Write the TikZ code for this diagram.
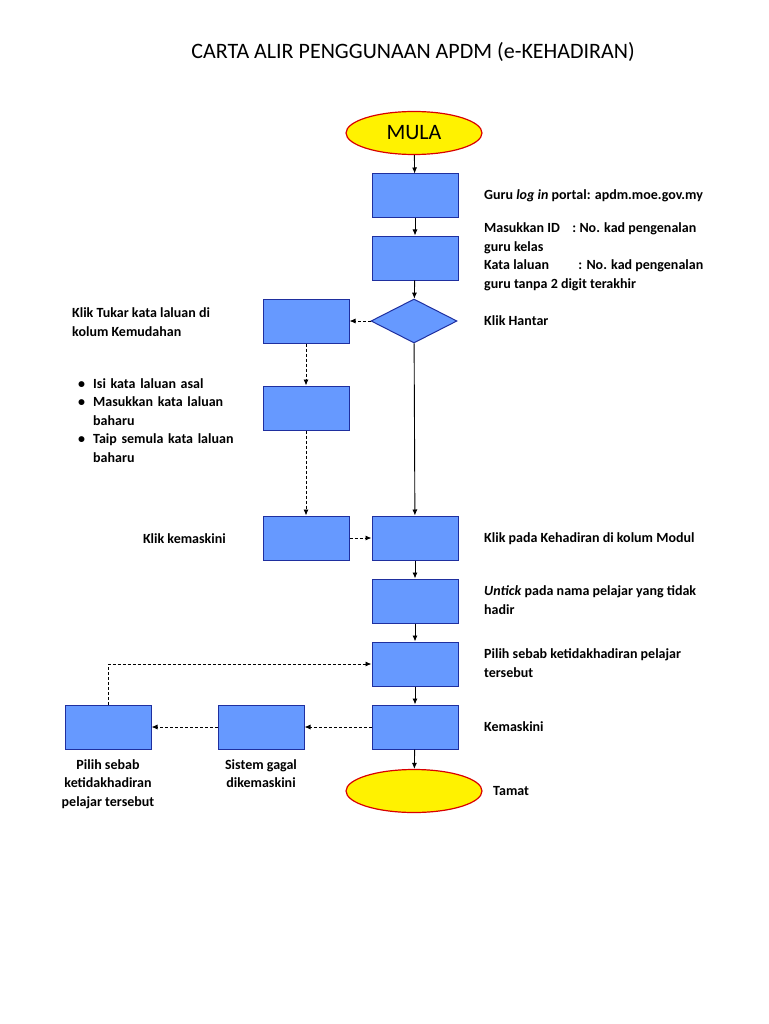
\documentclass[tikz,border=0pt]{standalone}
\usepackage{fontspec}
\setmainfont{Carlito}
\usetikzlibrary{shapes.geometric,arrows.meta}
\definecolor{boxfill}{HTML}{6699FF}
\definecolor{boxline}{HTML}{1F2F9F}
\begin{document}
\begin{tikzpicture}[x=1pt,y=-1pt,
  box/.style={draw=boxline,fill=boxfill,line width=1pt,minimum width=86pt,minimum height=44pt,inner sep=0pt},
  term/.style={ellipse,draw=red!85!black,fill=yellow,line width=1.2pt,minimum width=136pt,minimum height=43pt,inner sep=0pt},
  dia/.style={diamond,draw=boxline,fill=boxfill,line width=1pt,minimum width=86pt,minimum height=44pt,inner sep=0pt,aspect=2},
  arr/.style={-{Latex[length=6pt,width=5pt]},line width=0.9pt},
  darr/.style={arr,dashed,dash pattern=on 3pt off 2pt},
  lbl/.style={anchor=west,align=left,font=\fontsize{14}{18.5}\selectfont\bfseries,inner sep=0pt}]
\useasboundingbox (0,0) rectangle (768,1024);
\node[font=\fontsize{22}{26}\selectfont] (title) at (413,52) {CARTA ALIR PENGGUNAAN APDM (e-KEHADIRAN)};
\node[term,font=\fontsize{22}{26}\selectfont] (mula) at (414,133) {MULA};
\node[box] (b1) at (415,196) {};
\node[box] (b2) at (415,258) {};
\node[dia] (d) at (414,321) {};
\node[box] (l1) at (306,321) {};
\node[box] (l2) at (306,408) {};
\node[box] (l3) at (306,538) {};
\node[box] (b3) at (415,538) {};
\node[box] (b4) at (415,601) {};
\node[box] (b5) at (415,664) {};
\node[box] (b6) at (415,727) {};
\node[box] (f1) at (261,727) {};
\node[box] (f2) at (108,727) {};
\node[term,font=\fontsize{14}{17}\selectfont\bfseries] (tamat) at (414,791) {};
\draw[arr] (mula) -- (b1);
\draw[arr] (b1) -- (b2);
\draw[arr] (b2) -- (d);
\draw[arr] (d) -- (b3);
\draw[arr] (b3) -- (b4);
\draw[arr] (b4) -- (b5);
\draw[arr] (b5) -- (b6);
\draw[arr] (b6) -- (tamat);
\draw[darr] (d) -- (l1);
\draw[darr] (l1) -- (l2);
\draw[darr] (l2) -- (l3);
\draw[darr] (l3) -- (b3);
\draw[darr] (b6) -- (f1);
\draw[darr] (f1) -- (f2);
\draw[darr] (f2.north) |- (b5.west);
\node[lbl] (t1) at (484,196) {Guru \textit{log in} portal: apdm.moe.gov.my};
\node[lbl] (t2) at (484,257) {Masukkan ID\hspace{0.9em}: No. kad pengenalan\\guru kelas\\Kata laluan\hspace{2.1em}: No. kad pengenalan\\guru tanpa 2 digit terakhir};
\node[lbl] (t3) at (484,321) {Klik Hantar};
\node[lbl] (t4) at (72,322) {Klik Tukar kata laluan di\\kolum Kemudahan};
\node[lbl,text width=185pt] (t5) at (72,416) {%
\begin{list}{\textbullet}{\leftmargin=21pt\labelwidth=10pt\labelsep=8pt\itemsep=0pt\parsep=0pt\topsep=0pt}
\item Isi kata laluan asal
\item Masukkan kata laluan baharu
\item Taip semula kata laluan baharu
\end{list}};
\node[lbl,anchor=east] (t6) at (226,539) {Klik kemaskini};
\node[lbl] (t7) at (484,539) {Klik pada Kehadiran di kolum Modul};
\node[lbl] (t8) at (484,600) {\textit{Untick} pada nama pelajar yang tidak\\hadir};
\node[lbl] (t9) at (484,663) {Pilih sebab ketidakhadiran pelajar\\tersebut};
\node[lbl] (t10) at (484,727) {Kemaskini};
\node[lbl] (t11) at (493,791) {Tamat};
\node[lbl,anchor=north,align=center] (t12) at (108,759) {Pilih sebab\\ketidakhadiran\\pelajar tersebut};
\node[lbl,anchor=north,align=center] (t13) at (261,759) {Sistem gagal\\dikemaskini};
\end{tikzpicture}
\end{document}
